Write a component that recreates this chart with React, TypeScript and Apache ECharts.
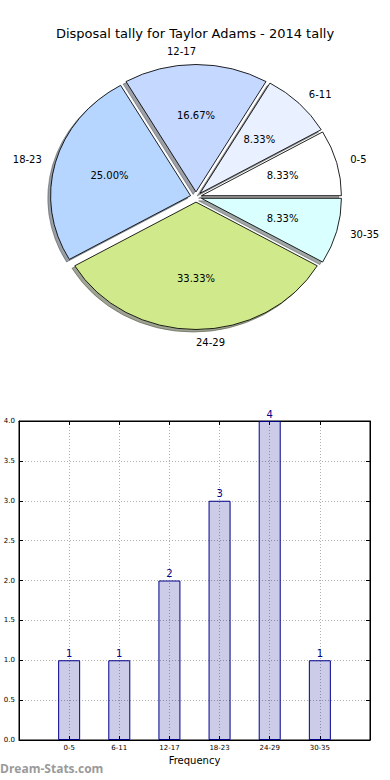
import React, { useEffect, useRef } from 'react';
import * as echarts from 'echarts';

const TITLE = 'Disposal tally for Taylor Adams - 2014 tally';
const pieCategories = ['0-5', '6-11', '12-17', '18-23', '24-29', '30-35'];
const pieValues = [1, 1, 2, 3, 4, 1];
const pieColors = ['#ffffff', '#e9f0ff', '#c5d8ff', '#b6d6ff', '#d0ea8b', '#d9ffff'];

const barCategories = ['0-5', '6-11', '12-17', '18-23', '24-29', '30-35'];
const barValues = [1, 1, 2, 3, 4, 1];
const xAxisName = 'Frequency';
const watermark = 'Dream-Stats.com';

const FONT = '"DejaVu Sans", sans-serif';

// pie geometry (elliptical, like a matplotlib pie without equal aspect)
const CX = 196;
const CY = 197;
const RX = 140;
const RY = 127.4;
const EXPLODE = 0.04;
const SHADOW = 0.02;
const LABEL_DIST = 1.1;
const PCT_DIST = 0.6;

function shadowOf(hex: string): string {
  const n = parseInt(hex.slice(1), 16);
  const r = Math.round(((n >> 16) & 255) * 0.3);
  const g = Math.round(((n >> 8) & 255) * 0.3);
  const b = Math.round((n & 255) * 0.3);
  return `rgba(${r},${g},${b},0.5)`;
}

export default function App() {
  const ref = useRef<HTMLDivElement>(null);
  useEffect(() => {
    if (!ref.current) return;
    const chart = echarts.init(ref.current, undefined, { renderer: 'svg' });
    const total = pieValues.reduce((a, b) => a + b, 0);
    const k = RY / RX;

    const option: any = {
      animation: false,
      backgroundColor: '#fff',
      title: {
        text: TITLE,
        left: 'center',
        top: 22,
        textStyle: { fontSize: 13, fontWeight: 'normal', fontFamily: FONT, color: '#000' },
      },
      grid: {
        left: 19, top: 421, width: 351, height: 319,
        show: true, borderColor: '#000', borderWidth: 1, backgroundColor: 'transparent',
      },
      xAxis: [
        {
          type: 'value', min: -1, max: 6, interval: 1, position: 'bottom',
          axisLine: { show: true, onZero: false, lineStyle: { color: '#000', width: 1 } },
          axisTick: { show: true, inside: true, length: 4, lineStyle: { color: '#000' } },
          axisLabel: {
            fontSize: 7, color: '#000', fontFamily: FONT, margin: 4,
            formatter: (v: number) => (barCategories[v] !== undefined ? barCategories[v] : ''),
          },
          splitLine: { show: true, lineStyle: { type: [1, 2], color: '#b0b0b0', width: 1 } },
          name: xAxisName, nameLocation: 'middle', nameGap: 15,
          nameTextStyle: { fontSize: 10, color: '#000', fontFamily: FONT },
        },
        {
          type: 'value', min: -1, max: 6, interval: 1, position: 'top',
          axisLine: { show: true, onZero: false, lineStyle: { color: '#000', width: 1 } },
          axisTick: { show: true, inside: true, length: 4, lineStyle: { color: '#000' } },
          axisLabel: { show: false },
          splitLine: { show: false },
        },
      ],
      yAxis: [
        {
          type: 'value', min: 0, max: 4, interval: 0.5, position: 'left',
          axisLine: { show: true, onZero: false, lineStyle: { color: '#000', width: 1 } },
          axisTick: { show: true, inside: true, length: 4, lineStyle: { color: '#000' } },
          axisLabel: {
            fontSize: 7, color: '#000', fontFamily: FONT, margin: 4,
            formatter: (v: number) => v.toFixed(1),
          },
          splitLine: { show: true, lineStyle: { type: [1, 2], color: '#b0b0b0', width: 1 } },
        },
        {
          type: 'value', min: 0, max: 4, interval: 0.5, position: 'right',
          axisLine: { show: true, onZero: false, lineStyle: { color: '#000', width: 1 } },
          axisTick: { show: true, inside: true, length: 4, lineStyle: { color: '#000' } },
          axisLabel: { show: false },
          splitLine: { show: false },
        },
      ],
      graphic: [
        {
          type: 'text', left: 0, top: 762,
          style: { text: watermark, fill: '#9a9a9a', font: 'bold 12px "Open Sans", sans-serif' },
        },
      ],
      series: [
        {
          type: 'bar',
          xAxisIndex: 0,
          yAxisIndex: 0,
          data: barValues.map((v, i) => [i, v]),
          barWidth: 22,
          itemStyle: { color: 'rgba(0,0,139,0.2)', borderColor: '#00008b', borderWidth: 1 },
          label: {
            show: true, position: 'top', distance: 2, color: '#00008b', fontSize: 10, fontFamily: FONT,
            formatter: (p: any) => String(p.value[1]),
          },
          z: 3,
        },
        {
          type: 'custom',
          coordinateSystem: 'none',
          silent: true,
          data: pieValues,
          renderItem: (params: any, api: any) => {
            const i = params.dataIndex;
            const v = api.value(0);
            let before = 0;
            for (let j = 0; j < i; j++) before += pieValues[j];
            const t1 = (before / total) * 2 * Math.PI;
            const t2 = ((before + v) / total) * 2 * Math.PI;
            const m = (t1 + t2) / 2;
            const c = Math.cos(m);
            const s = Math.sin(m);
            const ex = CX + EXPLODE * RX * c;
            const ey = CY - EXPLODE * RY * s;
            const shape = { cx: 0, cy: 0, r: RX, r0: 0, startAngle: -t2, endAngle: -t1, clockwise: true };
            const lx = ex + LABEL_DIST * RX * c;
            const ly = ey - LABEL_DIST * RY * s;
            const px = ex + PCT_DIST * RX * c;
            const py = ey - PCT_DIST * RY * s;
            let align = 'left';
            if (c < -1e-9) align = 'right';
            else if (Math.abs(c) <= 1e-9) align = s > 0 ? 'right' : 'left';
            const sc = shadowOf(pieColors[i]);
            return {
              type: 'group',
              children: [
                {
                  type: 'sector', x: ex - SHADOW * RX, y: ey + SHADOW * RY, scaleY: k,
                  shape, style: { fill: sc, stroke: sc, lineWidth: 1 }, z2: 1,
                },
                {
                  type: 'sector', x: ex, y: ey, scaleY: k,
                  shape, style: { fill: pieColors[i], stroke: '#000', lineWidth: 0.9 }, z2: 10,
                },
                {
                  type: 'text', x: lx, y: ly, z2: 20,
                  style: {
                    text: pieCategories[i], align, verticalAlign: 'middle',
                    fontSize: 10, fontFamily: FONT, fill: '#000',
                  },
                },
                {
                  type: 'text', x: px, y: py, z2: 20,
                  style: {
                    text: ((v / total) * 100).toFixed(2) + '%', align: 'center', verticalAlign: 'middle',
                    fontSize: 10, fontFamily: FONT, fill: '#000',
                  },
                },
              ],
            };
          },
        },
      ],
    };
    chart.setOption(option);
    return () => chart.dispose();
  }, []);
  return (
    <div
      ref={ref}
      style={{ position: 'absolute', left: 0, top: 0, width: 390, height: 780 }}
    />
  );
}
